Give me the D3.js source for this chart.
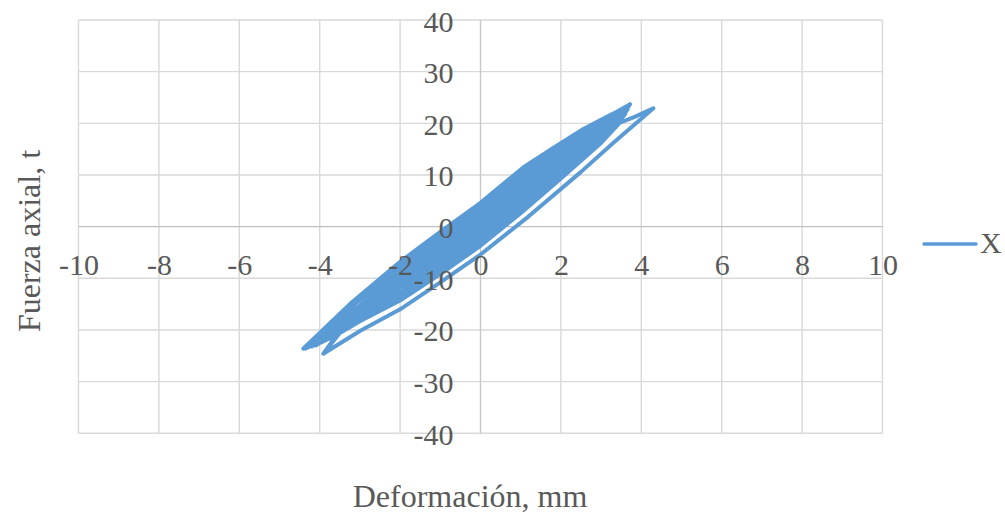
<!DOCTYPE html>
<html><head><meta charset="utf-8">
<script src="https://cdn.jsdelivr.net/npm/d3@7/dist/d3.min.js"></script>
<style>html,body{margin:0;padding:0;background:#fff;} svg{display:block;}</style>
</head><body><svg id="c" width="1005" height="516"></svg>
<script>
const serieNombre = "X";
const tituloX = "Deformación, mm";
const tituloY = "Fuerza axial, t";
const xTicks = [-10, -8, -6, -4, -2, 0, 2, 4, 6, 8, 10];
const yTicks = [-40, -30, -20, -10, 0, 10, 20, 30, 40];
// [deformación (mm), fuerza axial (t)], in loading order
const curva = [
  [0,0],[0.35,4.2],
  [0.21,1.93],[0.01,-0.72],[-0.15,-2.23],[-0.3,-3.6],
  [-0.19,-2.23],[0.04,0],[0.24,2.8],[0.39,4.54],[0.5,5.6],
  [0.28,2.58],[-0.02,-1.04],[-0.27,-3.22],[-0.5,-5.2],
  [-0.34,-3.22],[-0.02,0],[0.27,3.5],[0.49,5.67],[0.65,7.0],
  [0.35,3.22],[-0.05,-1.32],[-0.39,-4.09],[-0.7,-6.6],
  [-0.49,-4.09],[-0.07,0],[0.31,4.3],[0.59,6.97],[0.8,8.6],
  [0.44,3.96],[-0.06,-1.56],[-0.47,-4.84],[-0.85,-7.8],
  [-0.6,-4.84],[-0.09,0],[0.36,5.0],[0.7,8.1],[0.95,10.0],
  [0.52,4.6],[-0.06,-1.72],[-0.55,-5.33],[-1.0,-8.6],
  [-0.71,-5.33],[-0.13,0],[0.39,5.7],[0.78,9.23],[1.07,11.4],
  [0.57,5.24],[-0.11,-1.92],[-0.68,-5.95],[-1.2,-9.6],
  [-0.85,-5.95],[-0.15,0],[0.48,6.3],[0.95,10.21],[1.3,12.6],
  [0.71,5.8],[-0.1,-2.12],[-0.78,-6.57],[-1.4,-10.6],
  [-0.99,-6.57],[-0.16,0],[0.58,6.9],[1.14,11.18],[1.55,13.8],
  [0.85,6.35],[-0.11,-2.38],[-0.91,-7.38],[-1.65,-11.9],
  [-1.17,-7.38],[-0.2,0],[0.66,7.45],[1.32,12.07],[1.8,14.9],
  [0.99,6.85],[-0.12,-2.64],[-1.05,-8.18],[-1.9,-13.2],
  [-1.37,-8.18],[-0.37,0],[0.66,7.75],[1.39,12.56],[1.92,15.5],
  [1.14,6.82],[-0.04,-2.58],[-1.06,-8.7],[-2.0,-13.6],
  [-1.35,-8.18],[-0.24,0],[0.75,8.1],[1.5,13.12],[2.05,16.2],
  [1.13,7.45],[-0.13,-2.86],[-1.18,-8.87],[-2.15,-14.3],
  [-1.53,-8.87],[-0.28,0],[0.83,8.7],[1.68,14.09],[2.3,17.4],
  [1.27,8.0],[-0.14,-3.04],[-1.32,-9.42],[-2.4,-15.2],
  [-1.72,-9.42],[-0.46,0],[0.85,9.1],[1.77,14.74],[2.45,18.2],
  [1.46,8.0],[-0.03,-2.96],[-1.31,-9.98],[-2.5,-15.6],
  [-1.71,-9.42],[-0.32,0],[0.92,9.4],[1.87,15.23],[2.56,18.8],
  [1.43,8.65],[-0.12,-3.2],[-1.41,-9.92],[-2.6,-16.0],
  [-1.84,-9.92],[-0.33,0],[1.02,9.9],[2.04,16.04],[2.8,19.8],
  [1.56,9.11],[-0.14,-3.42],[-1.55,-10.6],[-2.85,-17.1],
  [-2.04,-10.6],[-0.53,0],[1.04,10.15],[2.14,16.44],[2.95,20.3],
  [1.76,8.93],[-0.03,-3.36],[-1.57,-11.33],[-3.0,-17.7],
  [-2.02,-10.6],[-0.37,0],[1.1,10.4],[2.22,16.85],[3.05,20.8],
  [1.7,9.57],[-0.15,-3.64],[-1.69,-11.28],[-3.1,-18.2],
  [-2.2,-11.28],[-0.41,0],[1.19,10.85],[2.4,17.58],[3.3,21.7],
  [1.84,9.98],[-0.16,-3.88],[-1.82,-12.03],[-3.35,-19.4],
  [-2.41,-12.03],[-0.65,0],[1.17,11.05],[2.46,17.9],[3.4,22.1],
  [2.03,9.72],[-0.03,-3.78],[-1.81,-12.74],[-3.45,-19.9],
  [-2.39,-12.03],[-0.47,0],[1.24,11.25],[2.54,18.23],[3.5,22.5],
  [1.94,10.35],[-0.19,-4.12],[-1.97,-12.77],[-3.6,-20.6],
  [-2.6,-12.77],[-0.74,0],[1.19,11.4],[2.55,18.47],[3.55,22.8],
  [2.09,10.03],[-0.1,-4.05],[-2.0,-13.63],[-3.75,-21.3],
  [-3.0,-16.2],[-2.0,-10.4],[-1.0,-4.8],[0,1.0],[1.0,7.2],[2.0,13.0],[3.0,18.6],[3.58,22.3],
  [3.2,18.4],[2.5,13.6],[1.5,7.0],[0.5,0.6],[-0.5,-5.5],[-1.5,-11.0],[-2.5,-15.6],[-3.3,-19.2],[-3.95,-22.4],
  [-3.2,-17.4],[-2.5,-13.6],[-1.5,-7.6],[-0.5,-1.8],[0.5,4.2],[1.5,10.2],[2.5,15.6],[3.2,19.8],[3.66,22.7],
  [3.3,18.8],[2.6,13.9],[1.6,7.3],[0.5,0.0],[-0.5,-6.0],[-1.5,-11.3],[-2.5,-15.0],[-3.2,-18.5],[-3.85,-22.0],
  [-3.3,-18.6],[-2.5,-14.4],[-1.5,-9.0],[-0.5,-3.2],[0.5,3.0],[1.5,9.2],[2.5,14.8],[3.2,18.8],[3.6,21.8],
  [3.2,18.0],[2.5,13.0],[1.5,6.6],[0.5,0.2],[-0.5,-5.8],[-1.5,-11.5],[-2.5,-15.4],[-3.2,-18.6],[-3.75,-21.3],[-4.35,-23.6],
  [-3.74,-19.3],[-3.25,-15.6],[-2.5,-10.6],[-1.5,-4.4],[0,4.2],[1.0,10.6],[2.0,15.9],[3.0,20.5],[3.63,23.0],
  [3.4,20.6],[3.0,17.8],[2.0,11.0],[1.0,4.5],[0,-1.8],[-1,-7.5],[-2,-12.8],[-3,-17.0],[-3.8,-21.0],[-4.2,-23.2],
  [-3.74,-20.5],[-3.25,-16.9],[-2.5,-11.9],[-1.5,-5.9],[-0.5,0.0],[0.5,5.8],[1.5,11.4],[2.5,16.6],[3.2,20.3],[3.6,22.6],
  [3.3,19.0],[2.6,14.2],[1.6,7.6],[0.5,0.4],[-0.5,-5.4],[-1.5,-10.9],[-2.5,-15.3],[-3.2,-18.8],[-3.75,-21.3],
  [-2.58,-12.77],[-0.53,0],[1.3,11.85],[2.7,19.2],[3.72,23.7],
  [3.45,20.8],[3.0,17.4],[2.0,10.6],[1.0,4.0],[0,-2.3],[-1,-7.9],[-2,-13.1],[-3,-17.4],[-3.6,-20.4],[-4.1,-23.0],
  [-3.1,-14.8],[-2,-7.8],[-1,-1.9],[0,3.8],[1.0,10.2],[2.0,15.5],[3.0,20.3],[3.65,23.2],
  [3.45,20.0],[3.0,16.2],[2.0,9.3],[1.0,2.6],[0,-3.7],[-1,-9.2],[-2,-14.3],[-3,-18.3],[-3.7,-21.5],[-4.41,-23.6],
  [-3.25,-15.0],[-2,-6.8],[-1,-1.0],[0,4.6],[1.07,11.5],[1.8,15.2],[2.56,18.9],[3.2,21.5],[3.6,23.0],
  [3.4,20.3],[3.0,16.8],[2.0,10.0],[1.0,3.3],[0,-3.0],[-1,-8.5],[-2,-13.7],[-3,-17.9],[-3.5,-20.6],[-3.91,-24.6],
  [-3.3,-18.0],[-2.5,-11.5],[-1.5,-5.2],[-0.5,0.6],[0.5,6.5],[1.5,12.2],[2.5,16.3],[3.3,19.6],[3.85,21.3],[4.3,22.9],
  [3.3,16.2],[2.5,10.6],[1.2,2.0],[0,-5.4],[-1,-10.8],[-2,-16.0],[-3,-20.2],[-3.91,-24.6]
];

const color = "#5b9bd5";
const textColor = "#595959";
const font = "'Liberation Serif','Times New Roman',serif";

const x = d3.scaleLinear().domain([-10, 10]).range([78.5, 882.5]);
const y = d3.scaleLinear().domain([-40, 40]).range([433.3, 20]);
const svg = d3.select("#c");

// gridlines
svg.append("g").selectAll("line").data(xTicks.filter(d => d !== 0)).join("line")
  .attr("x1", d => x(d)).attr("x2", d => x(d)).attr("y1", y(40)).attr("y2", y(-40))
  .attr("stroke", "#d9d9d9").attr("stroke-width", 1.4);
svg.append("g").selectAll("line").data(yTicks.filter(d => d !== 0)).join("line")
  .attr("x1", x(-10)).attr("x2", x(10)).attr("y1", d => y(d)).attr("y2", d => y(d))
  .attr("stroke", "#d9d9d9").attr("stroke-width", 1.4);
// zero axes
svg.append("line").attr("x1", x(0)).attr("x2", x(0)).attr("y1", y(40)).attr("y2", y(-40))
  .attr("stroke", "#c8c8c8").attr("stroke-width", 1.4);
svg.append("line").attr("x1", x(-10)).attr("x2", x(10)).attr("y1", y(0)).attr("y2", y(0))
  .attr("stroke", "#bfbfbf").attr("stroke-width", 1.4);

// series
const line = d3.line().x(d => x(d[0])).y(d => y(d[1])).curve(d3.curveLinear);
svg.append("path").datum(curva).attr("d", line)
  .attr("fill", "none").attr("stroke", color).attr("stroke-width", 4)
  .attr("stroke-linejoin", "round").attr("stroke-linecap", "round");

// axes labels
const fmt = d => String(d);
const gx = svg.append("g").attr("transform", `translate(0,${y(0)})`)
  .call(d3.axisBottom(x).tickValues(xTicks).tickSize(0).tickFormat(fmt));
gx.select(".domain").remove();
gx.selectAll("text").attr("y", 48).attr("dy", 0)
  .attr("font-family", font).attr("font-size", 30).attr("fill", textColor);

const gy = svg.append("g").attr("transform", `translate(${x(0)},0)`)
  .call(d3.axisLeft(y).tickValues(yTicks).tickSize(0).tickFormat(fmt));
gy.select(".domain").remove();
gy.selectAll("text").attr("x", -27).attr("y", 11).attr("dy", 0)
  .attr("font-family", font).attr("font-size", 30).attr("fill", textColor);

// titles
svg.append("text").attr("x", 470).attr("y", 507).attr("text-anchor", "middle")
  .attr("font-family", font).attr("font-size", 32).attr("fill", textColor).text(tituloX);
svg.append("text").attr("transform", "translate(40,241) rotate(-90)").attr("text-anchor", "middle")
  .attr("font-family", font).attr("font-size", 32).attr("fill", textColor).text(tituloY);

// legend
svg.append("line").attr("x1", 924).attr("x2", 976).attr("y1", 244).attr("y2", 244)
  .attr("stroke", color).attr("stroke-width", 3.5).attr("stroke-linecap", "round");
svg.append("text").attr("x", 980).attr("y", 253)
  .attr("font-family", font).attr("font-size", 30).attr("fill", textColor).text(serieNombre);
</script>
</body></html>
